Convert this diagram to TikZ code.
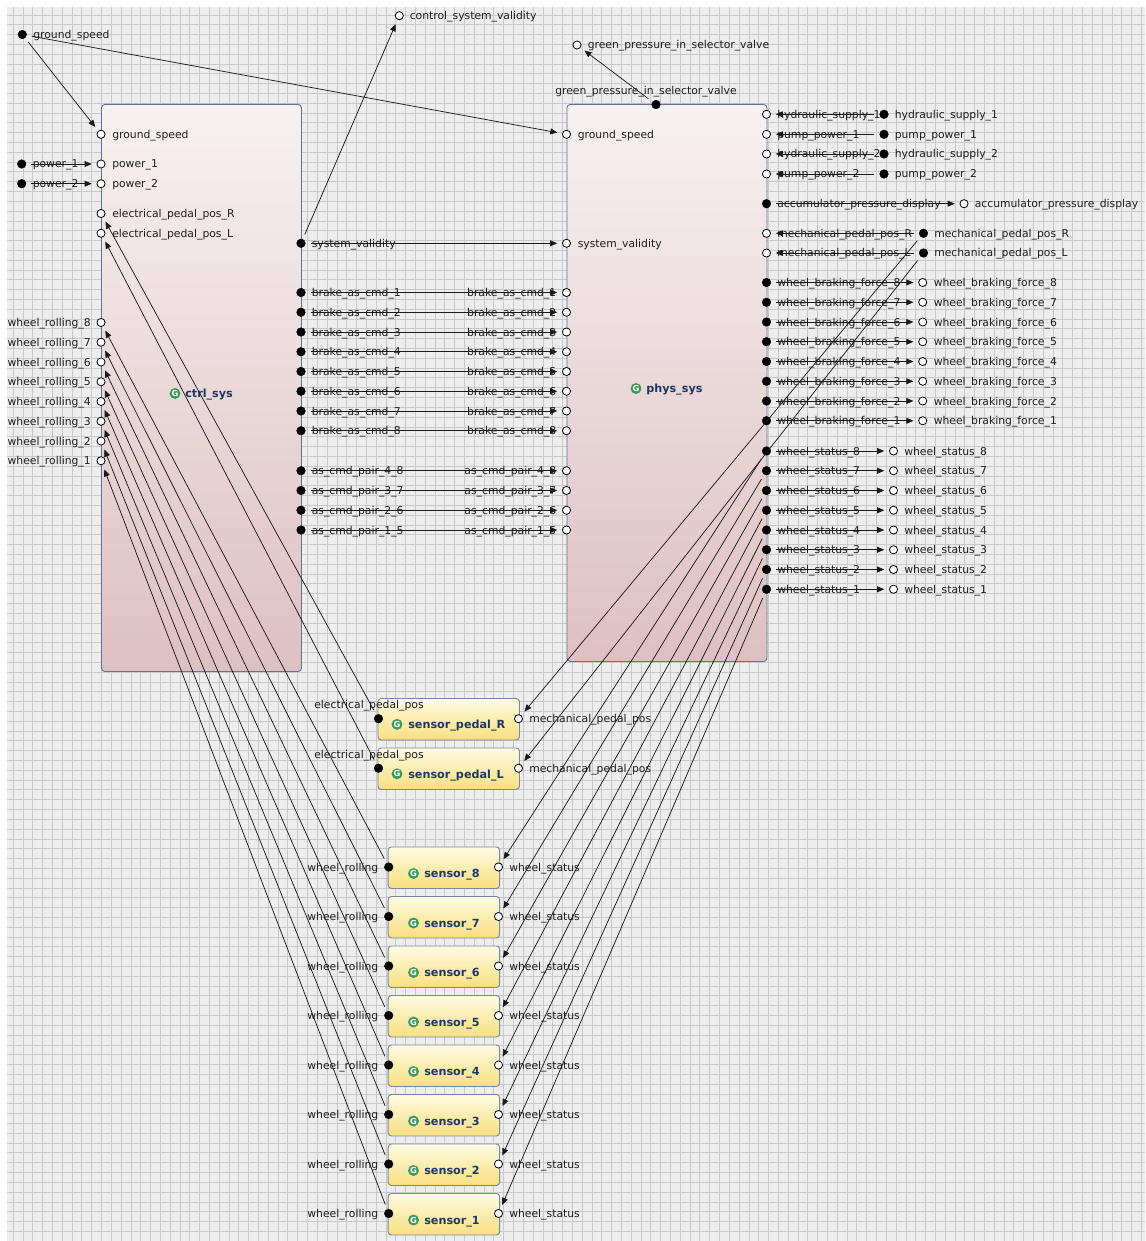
\documentclass[tikz,border=0pt]{standalone}
\usepackage{fontspec}
\setmainfont{DejaVu Sans}
\usetikzlibrary{arrows.meta}
\definecolor{bggray}{HTML}{EDEDED}
\definecolor{gridc}{HTML}{C9C9C9}
\definecolor{pinktop}{HTML}{F7F1F1}
\definecolor{pinkbot}{HTML}{DEC0C2}
\definecolor{boxborder}{HTML}{5F7397}
\definecolor{yeltop}{HTML}{FFFBE3}
\definecolor{yelbot}{HTML}{F8DF7E}
\definecolor{sensborder}{HTML}{7888A3}
\definecolor{ttlblue}{HTML}{1E3866}
\definecolor{icgreen}{HTML}{3C9A5E}
\definecolor{linec}{HTML}{1A1A1A}
\newcommand\lblfont{\fontsize{8.1}{9}\selectfont}
\newcommand\ttlfont{\fontsize{8.4}{9}\selectfont\bfseries}
\newcommand\icofont{\fontsize{6.2}{6.2}\selectfont\bfseries}
\def\px{0.75pt}
\tikzset{
  inport/.style={circle, draw=black, fill=white, line width=0.6pt, minimum size=6.1pt, inner sep=0pt},
  outport/.style={circle, draw=black, fill=black, line width=0.3pt, minimum size=6.5pt, inner sep=0pt},
  lblR/.style={anchor=base west, inner sep=0pt, font=\lblfont, text=black!88},
  lblL/.style={anchor=base east, inner sep=0pt, font=\lblfont, text=black!88},
  lblC/.style={anchor=base, inner sep=0pt, font=\lblfont, text=black!88},
  conn/.style={draw=linec, line width=0.55pt, -{Triangle[length=5.3pt,width=4.4pt]}, shorten >=3.6pt, shorten <=3.8pt},
  bigbox/.style={draw=boxborder, line width=0.7pt, rounded corners=2.5pt, top color=pinktop, bottom color=pinkbot, anchor=north west, inner sep=0pt},
  sensbox/.style={draw=sensborder, line width=0.7pt, rounded corners=2.5pt, top color=yeltop, bottom color=yelbot, anchor=north west, inner sep=0pt},
  ttl/.style={anchor=base west, inner sep=0pt, font=\ttlfont, text=ttlblue},
  icon/.style={circle, fill=icgreen, inner sep=0pt, minimum size=8.2pt, text=white, font=\icofont},
}
\begin{document}
\begin{tikzpicture}[x=0.75pt,y=-0.75pt]
\useasboundingbox (0,0) rectangle (1145,1241);
\fill[white] (0,0) rectangle (1145,1241);
\fill[bggray] (7,7) rectangle (1145,1241);
\begin{scope}
\clip (7,7) rectangle (1145,1241);
\foreach \k in {0,...,115}{
  \pgfmathsetmacro\gx{floor(13.3+\k*9.81)+0.5}
  \draw[gridc, line width=0.75pt] (\gx,7) -- (\gx,1241);
}
\foreach \k in {0,...,124}{
  \pgfmathsetmacro\gy{floor(15+\k*9.81)+0.5}
  \draw[gridc, line width=0.75pt] (7,\gy) -- (1145,\gy);
}
\end{scope}

% ---------------- main blocks
\node[bigbox, minimum width=200*\px, minimum height=567*\px] (ctrl) at (101,104) {};
\node[bigbox, minimum width=200*\px, minimum height=557*\px] (phys) at (566.5,104) {};
\node[icon] (ctrl-ic) at (175,393.5) {G};
\node[ttl] (ctrl-t) at (185,397.5) {ctrl\_sys};
\node[icon] (phys-ic) at (636,388.5) {G};
\node[ttl] (phys-t) at (646,392.5) {phys\_sys};

% ---------------- ctrl_sys ports
\node[inport] (c-gs) at (101,134.3) {};
\node[lblR] (c-gs-l) at (112,138.3) {ground\_speed};
\node[inport] (c-p1) at (101,164) {};
\node[lblR] (c-p1-l) at (112,168) {power\_1};
\node[inport] (c-p2) at (101,183.7) {};
\node[lblR] (c-p2-l) at (112,187.7) {power\_2};
\node[inport] (c-eR) at (101,213.5) {};
\node[lblR] (c-eR-l) at (112,217.5) {electrical\_pedal\_pos\_R};
\node[inport] (c-eL) at (101,233.3) {};
\node[lblR] (c-eL-l) at (112,237.3) {electrical\_pedal\_pos\_L};
\foreach \i in {1,...,8}{
  \pgfmathsetmacro\yy{322.5+(8-\i)*19.75}
  \node[inport] (c-wr\i) at (101,\yy) {};
  \node[lblL] (c-wr\i-l) at (91,\yy+4) {wheel\_rolling\_\i};
}
\node[outport] (c-sv) at (301,243.3) {};
\node[lblR] (c-sv-l) at (311.5,247.3) {system\_validity};
\foreach \i in {1,...,8}{
  \pgfmathsetmacro\yy{292.5+(\i-1)*19.75}
  \node[outport] (c-b\i) at (301,\yy) {};
  \node[lblR] (c-b\i-l) at (311.5,\yy+4) {brake\_as\_cmd\_\i};
}
\foreach \a/\b/\n in {4/8/0,3/7/1,2/6/2,1/5/3}{
  \pgfmathsetmacro\yy{470.75+\n*19.75}
  \node[outport] (c-pr\a\b) at (301,\yy) {};
  \node[lblR] (c-pr\a\b-l) at (311.5,\yy+4) {as\_cmd\_pair\_\a\_\b};
}

% ---------------- phys_sys ports
\node[inport] (p-gs) at (566.5,134.3) {};
\node[lblR] (p-gs-l) at (577.5,138.3) {ground\_speed};
\node[inport] (p-sv) at (566.5,243.3) {};
\node[lblR] (p-sv-l) at (577.5,247.3) {system\_validity};
\foreach \i in {1,...,8}{
  \pgfmathsetmacro\yy{292.5+(\i-1)*19.75}
  \node[inport] (p-b\i) at (566.5,\yy) {};
  \node[lblL] (p-b\i-l) at (556.5,\yy+4) {brake\_as\_cmd\_\i};
}
\foreach \a/\b/\n in {4/8/0,3/7/1,2/6/2,1/5/3}{
  \pgfmathsetmacro\yy{470.75+\n*19.75}
  \node[inport] (p-pr\a\b) at (566.5,\yy) {};
  \node[lblL] (p-pr\a\b-l) at (556.5,\yy+4) {as\_cmd\_pair\_\a\_\b};
}
\node[outport] (p-gp) at (656,104.5) {};
\node[lblC] (p-gp-l) at (646,95) {green\_pressure\_in\_selector\_valve};
\node[inport] (p-hs1) at (766.5,114.3) {};
\node[lblR] (p-hs1-l) at (777,118.3) {hydraulic\_supply\_1};
\node[inport] (p-pp1) at (766.5,134.3) {};
\node[lblR] (p-pp1-l) at (777,138.3) {pump\_power\_1};
\node[inport] (p-hs2) at (766.5,154) {};
\node[lblR] (p-hs2-l) at (777,158) {hydraulic\_supply\_2};
\node[inport] (p-pp2) at (766.5,174) {};
\node[lblR] (p-pp2-l) at (777,178) {pump\_power\_2};
\node[outport] (p-acc) at (766.5,203.7) {};
\node[lblR] (p-acc-l) at (777,207.7) {accumulator\_pressure\_display};
\node[inport] (p-mR) at (766.5,233.3) {};
\node[lblR] (p-mR-l) at (777,237.3) {mechanical\_pedal\_pos\_R};
\node[inport] (p-mL) at (766.5,253) {};
\node[lblR] (p-mL-l) at (777,257) {mechanical\_pedal\_pos\_L};
\foreach \i in {1,...,8}{
  \pgfmathsetmacro\yy{282.5+(8-\i)*19.75}
  \node[outport] (p-wbf\i) at (766.5,\yy) {};
  \node[lblR] (p-wbf\i-l) at (777,\yy+4) {wheel\_braking\_force\_\i};
  \node[inport] (x-wbf\i) at (922.7,\yy) {};
  \node[lblR] (x-wbf\i-l) at (933.5,\yy+4) {wheel\_braking\_force\_\i};
}
\foreach \i in {1,...,8}{
  \pgfmathsetmacro\yy{451+(8-\i)*19.75}
  \node[outport] (p-ws\i) at (766.5,\yy) {};
  \node[lblR] (p-ws\i-l) at (777,\yy+4) {wheel\_status\_\i};
  \node[inport] (x-ws\i) at (893.5,\yy) {};
  \node[lblR] (x-ws\i-l) at (904,\yy+4) {wheel\_status\_\i};
}

% ---------------- external ports
\node[outport] (x-gs) at (22.3,34.5) {};
\node[lblR] (x-gs-l) at (33,38.5) {ground\_speed};
\node[outport] (x-p1) at (21.7,164) {};
\node[lblR] (x-p1-l) at (32.5,168) {power\_1};
\node[outport] (x-p2) at (21.7,183.7) {};
\node[lblR] (x-p2-l) at (32.5,187.7) {power\_2};
\node[inport] (x-csv) at (399.3,15.7) {};
\node[lblR] (x-csv-l) at (409.5,19.7) {control\_system\_validity};
\node[inport] (x-gp) at (577,45) {};
\node[lblR] (x-gp-l) at (587.5,49) {green\_pressure\_in\_selector\_valve};
\node[outport] (x-hs1) at (884,114.3) {};
\node[lblR] (x-hs1-l) at (894.5,118.3) {hydraulic\_supply\_1};
\node[outport] (x-pp1) at (884,134.3) {};
\node[lblR] (x-pp1-l) at (894.5,138.3) {pump\_power\_1};
\node[outport] (x-hs2) at (884,154) {};
\node[lblR] (x-hs2-l) at (894.5,158) {hydraulic\_supply\_2};
\node[outport] (x-pp2) at (884,174) {};
\node[lblR] (x-pp2-l) at (894.5,178) {pump\_power\_2};
\node[inport] (x-acc) at (964,203.7) {};
\node[lblR] (x-acc-l) at (974.5,207.7) {accumulator\_pressure\_display};
\node[outport] (x-mR) at (923.5,233.3) {};
\node[lblR] (x-mR-l) at (934,237.3) {mechanical\_pedal\_pos\_R};
\node[outport] (x-mL) at (923.5,253) {};
\node[lblR] (x-mL-l) at (934,257) {mechanical\_pedal\_pos\_L};

% ---------------- pedal sensors
\node[sensbox, minimum width=141.5*\px, minimum height=41.5*\px] (sR) at (377.5,698) {};
\node[icon] (sR-ic) at (397,724.3) {G};
\node[ttl] (sR-t) at (408,728.5) {sensor\_pedal\_R};
\node[outport] (sR-e) at (378.5,718.7) {};
\node[inport] (sR-m) at (518.5,718.7) {};
\node[lblC] (sR-e-l) at (369,708.7) {electrical\_pedal\_pos};
\node[lblR] (sR-m-l) at (529,722.7) {mechanical\_pedal\_pos};

\node[sensbox, minimum width=141.5*\px, minimum height=41.5*\px] (sL) at (377.5,747.5) {};
\node[icon] (sL-ic) at (397,773.8) {G};
\node[ttl] (sL-t) at (408,778) {sensor\_pedal\_L};
\node[outport] (sL-e) at (378.5,768.2) {};
\node[inport] (sL-m) at (518.5,768.2) {};
\node[lblC] (sL-e-l) at (369,758.2) {electrical\_pedal\_pos};
\node[lblR] (sL-m-l) at (529,772.2) {mechanical\_pedal\_pos};

% ---------------- wheel sensors
\foreach \i in {1,...,8}{
  \pgfmathsetmacro\P{867+(8-\i)*49.5}
  \node[sensbox, minimum width=111.5*\px, minimum height=41.5*\px] (s\i) at (387.7,\P-20.5) {};
  \node[icon] (s\i-ic) at (413.5,\P+6.5) {G};
  \node[ttl] (s\i-t) at (424,\P+10.5) {sensor\_\i};
  \node[outport] (s\i-wr) at (388.7,\P) {};
  \node[inport] (s\i-ws) at (498.5,\P) {};
  \node[lblL] (s\i-wr-l) at (378.5,\P+4) {wheel\_rolling};
  \node[lblR] (s\i-ws-l) at (509,\P+4) {wheel\_status};
}

% ---------------- connectors
\draw[conn] (x-gs) -- (c-gs);
\draw[conn] (x-gs) -- (p-gs);
\draw[conn] (x-p1) -- (c-p1);
\draw[conn] (x-p2) -- (c-p2);
\draw[conn] (c-sv) -- (x-csv);
\draw[conn] (c-sv) -- (p-sv);
\foreach \i in {1,...,8} \draw[conn] (c-b\i) -- (p-b\i);
\foreach \a/\b in {4/8,3/7,2/6,1/5} \draw[conn] (c-pr\a\b) -- (p-pr\a\b);
\draw[conn] (p-gp) -- (x-gp);
\draw[conn] (x-hs1) -- (p-hs1);
\draw[conn] (x-pp1) -- (p-pp1);
\draw[conn] (x-hs2) -- (p-hs2);
\draw[conn] (x-pp2) -- (p-pp2);
\draw[conn] (p-acc) -- (x-acc);
\draw[conn] (x-mR) -- (p-mR);
\draw[conn] (x-mL) -- (p-mL);
\foreach \i in {1,...,8}{
  \draw[conn] (p-wbf\i) -- (x-wbf\i);
  \draw[conn] (p-ws\i) -- (x-ws\i);
  \draw[conn] (p-ws\i) -- (s\i-ws);
  \draw[conn] (s\i-wr) -- (c-wr\i);
}
\draw[conn] (sR-e) -- (c-eR);
\draw[conn] (sL-e) -- (c-eL);
\draw[conn] (x-mR) -- (sR-m);
\draw[conn] (x-mL) -- (sL-m);
\end{tikzpicture}
\end{document}
